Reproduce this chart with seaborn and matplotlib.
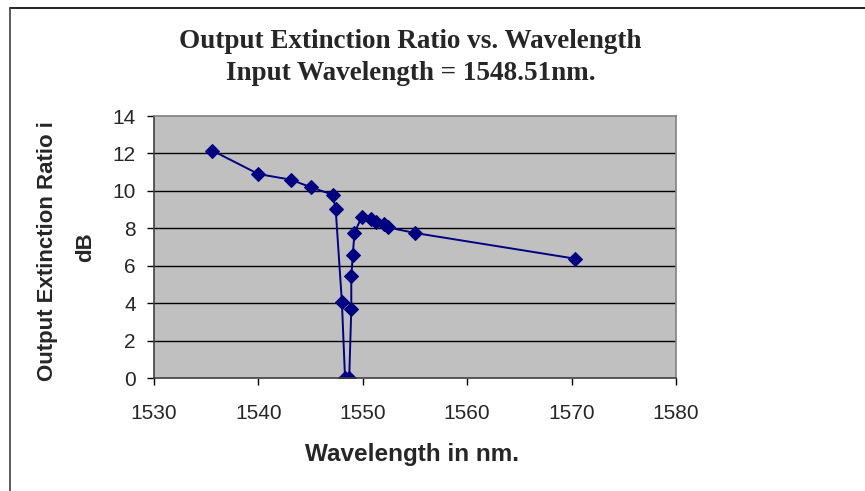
import matplotlib
matplotlib.use("Agg")
import matplotlib.pyplot as plt
import seaborn as sns
import pandas as pd
from matplotlib.lines import Line2D

wavelength = [1535.6, 1540.0, 1543.1, 1545.0, 1547.1, 1547.4, 1548.0, 1548.3,
              1548.7, 1548.9, 1548.9, 1549.05, 1549.2, 1549.9, 1550.8, 1551.3,
              1552.0, 1552.4, 1555.0, 1570.3]
extinction = [12.15, 10.9, 10.6, 10.2, 9.8, 9.05, 4.06, 0.0,
              0.0, 3.69, 5.45, 6.6, 7.77, 8.6, 8.5, 8.35,
              8.25, 8.05, 7.75, 6.38]
x_ticks = [1530, 1540, 1550, 1560, 1570, 1580]
y_ticks = [0, 2, 4, 6, 8, 10, 12, 14]

title_line1 = "Output Extinction Ratio vs. Wavelength"
title_line2 = "Input Wavelength = 1548.51nm."
xlabel_text = "Wavelength in nm."
ylabel_line1 = "Output Extinction Ratio i"
ylabel_line2 = "dB"

df = pd.DataFrame({"wl": wavelength, "er": extinction})

sns.set_theme(style="white")
plt.rcParams['font.family'] = ['Liberation Sans', 'DejaVu Sans']

fig = plt.figure(figsize=(8.65, 4.91), dpi=100)
ax = fig.add_axes([0.178, 0.2301, 0.6035, 0.5336])
ax.set_facecolor("#C0C0C0")

sns.lineplot(data=df, x="wl", y="er", sort=False, ax=ax, color="#000080",
             marker="D", markersize=7.5, markeredgecolor="#000080",
             linewidth=1.4, estimator=None)

ax.set_xlim(1530, 1580)
ax.set_ylim(0, 14)
ax.set_xticks(x_ticks)
ax.set_yticks(y_ticks)
ax.set_xticklabels([str(t) for t in x_ticks], fontsize=15)
ax.set_yticklabels([str(t) for t in y_ticks], fontsize=15)
ax.tick_params(axis="both", direction="out", length=5, width=1, color="#000000",
               bottom=True, left=True)
ax.tick_params(axis="y", pad=8)
ax.tick_params(axis="x", pad=14)
for yv in y_ticks[1:-1]:
    ax.axhline(yv, color="#000000", linewidth=1.0, zorder=1)
for side in ["left", "bottom"]:
    ax.spines[side].set_color("#404040")
    ax.spines[side].set_linewidth(1.2)
for side in ["top", "right"]:
    ax.spines[side].set_color("#808080")
    ax.spines[side].set_linewidth(1.2)
ax.set_xlabel("")
ax.set_ylabel("")

serif = ["Liberation Serif", "DejaVu Serif"]
fig.text(410 / 865, 1 - 41 / 491, title_line1, ha="center", va="center",
         fontsize=19.5, fontweight="bold", family=serif)
fig.text(411 / 865, 1 - 73 / 491, title_line2, ha="center", va="center",
         fontsize=19.5, fontweight="bold", family=serif)
fig.text(412 / 865, 1 - 455 / 491, xlabel_text, ha="center", va="center",
         fontsize=17.5, fontweight="bold")
fig.text(48 / 865, 1 - 251 / 491, ylabel_line1, ha="center", va="center",
         rotation=90, fontsize=16, fontweight="bold")
fig.text(86 / 865, 1 - 247 / 491, ylabel_line2, ha="center", va="center",
         rotation=90, fontsize=16, fontweight="bold")

fig.add_artist(Line2D([0.012, 1.0], [0.984, 0.984], transform=fig.transFigure,
                      color="#000000", linewidth=1.2))
fig.add_artist(Line2D([0.012, 0.012], [0.0, 0.984], transform=fig.transFigure,
                      color="#404040", linewidth=1.2))

fig.savefig("out.png", dpi=100)
